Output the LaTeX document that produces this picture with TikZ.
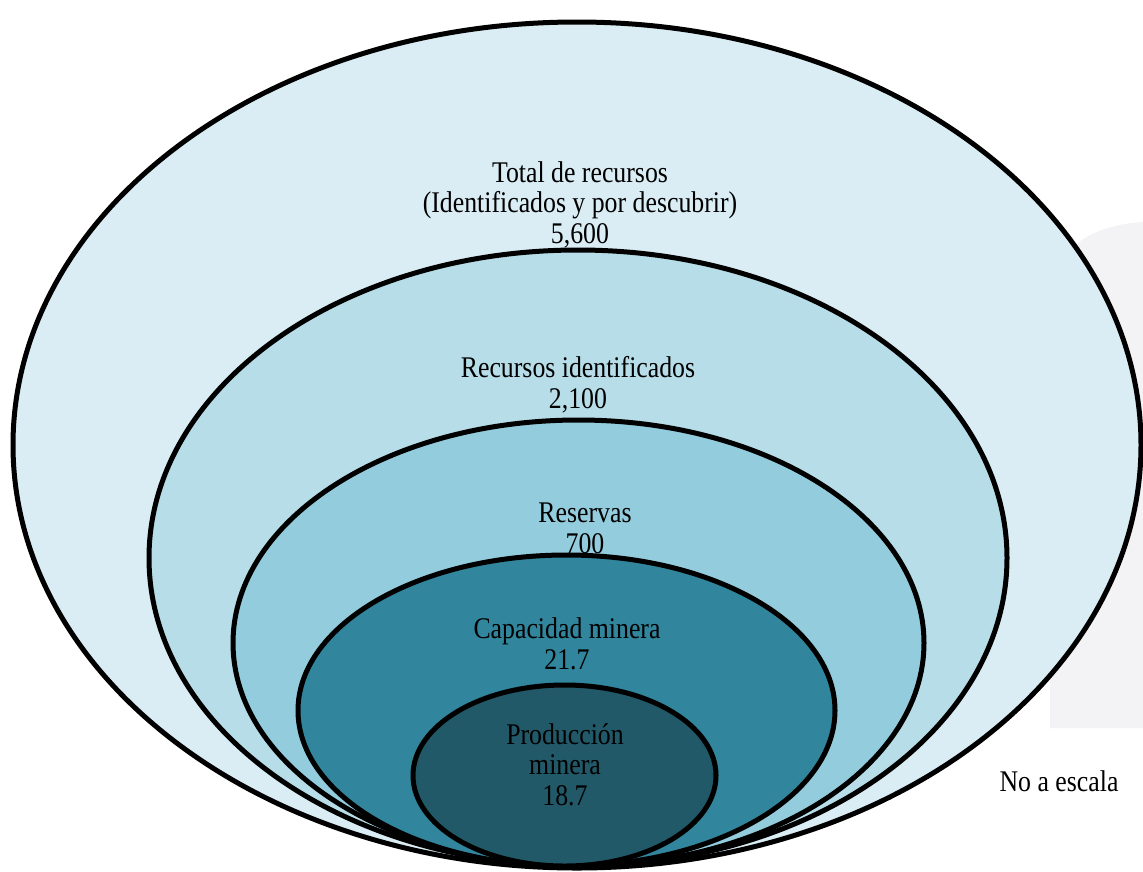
\documentclass[tikz,border=0pt]{standalone}
\usepackage{fontspec}
\setmainfont{Liberation Serif}[FakeStretch=0.86]
\definecolor{ringA}{HTML}{DAEDF4}
\definecolor{ringB}{HTML}{B7DEE8}
\definecolor{ringC}{HTML}{93CDDD}
\definecolor{ringD}{HTML}{31859C}
\definecolor{ringE}{HTML}{215968}
\definecolor{backdrop}{HTML}{F3F3F5}
\begin{document}
\begin{tikzpicture}[x=1pt,y=-1pt,
  ring/.style={draw=black,line width=5pt},
  lbl/.style={font=\fontsize{30}{30.5}\selectfont,align=center,anchor=base,inner sep=0pt}]
\useasboundingbox (0,0) rectangle (1143,871);
% faint backdrop on the right
\fill[backdrop] (1050,728) -- (1050,300) .. controls (1052,250) and (1090,225) .. (1143,222) -- (1143,728) -- cycle;
\fill[backdrop!50!white] (1050,440) rectangle (1143,452);
% nested rings, largest first
\path[ring,fill=ringA] (577,445) ellipse [x radius=564, y radius=423];
\path[ring,fill=ringB] (578,558) ellipse [x radius=429, y radius=308];
\path[ring,fill=ringC] (578.5,643) ellipse [x radius=345.5, y radius=223];
\path[ring,fill=ringD] (566.5,710.5) ellipse [x radius=268.5, y radius=155.5];
\path[ring,fill=ringE] (564.5,775.5) ellipse [x radius=151.5, y radius=90.5];
% labels (anchored on the baseline of their last line)
\node[lbl] (total) at (580,243) {Total de recursos\\(Identificados y por descubrir)\\5,600};
\node[lbl] (ident) at (578,408) {Recursos identificados\\2,100};
\node[lbl] (res) at (585,553) {Reservas\\700};
\node[lbl] (cap) at (567,669) {Capacidad minera\\21.7};
\node[lbl] (prod) at (565,805) {Producción\\minera\\18.7};
\node[lbl] (scale) at (1059,791) {No a escala};
\end{tikzpicture}
\end{document}
